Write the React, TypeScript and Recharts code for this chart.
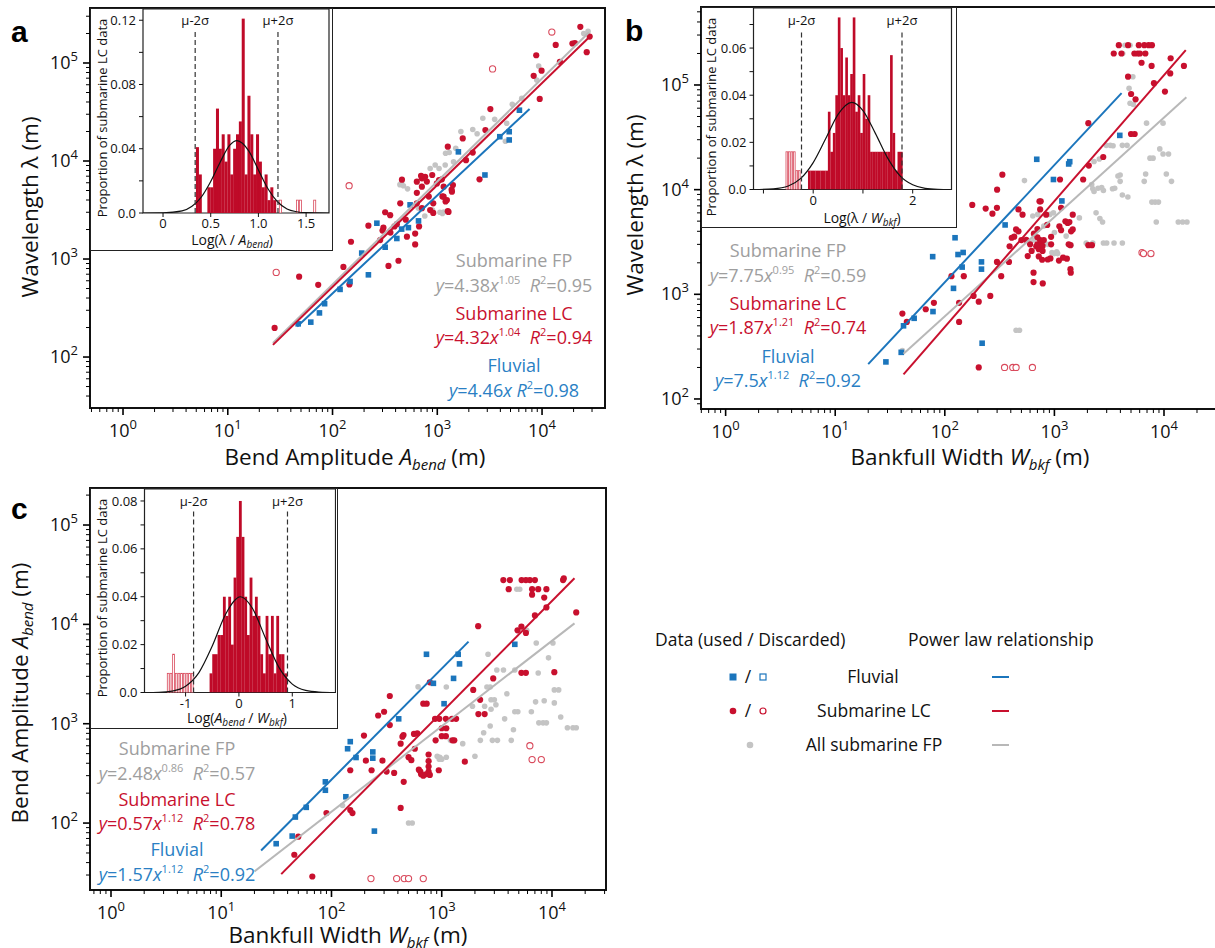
import React from "react";
import {
  Bar,
  ComposedChart,
  Line,
  ReferenceArea,
  ReferenceLine,
  Scatter,
  ScatterChart,
  XAxis,
  YAxis,
} from "recharts";

type P = [number, number];

const FONT = "'Open Sans', 'Noto Sans', sans-serif";
const RED = "#c8102e";
const BLUE = "#1b75bc";
const GRAY = "#c4c4c4";
const GRAY_LINE = "#b8b8b8";
const GRAY_TEXT = "#9e9e9e";
const BLUE_TEXT = "#2a7fc4";
const BAR_RED = "#bf0a28";
const OPEN_RED = "#d94a5c";

// ---------- panel a : wavelength vs bend amplitude ----------
const aFluvial: P[] = [
  [47, 218], [62, 227], [75, 282], [84, 350], [118, 490], [147, 590], [190, 1150], [220, 690],
  [265, 2320], [318, 1320], [411, 1620], [457, 2020], [530, 2090], [550, 3570], [662, 2450],
  [1590, 12400], [2850, 7200], [3950, 17700], [4860, 19900], [4860, 16400], [6080, 33000],
];
const aLC: P[] = [
  [28, 198], [48, 660], [73, 545], [127, 830], [150, 1500], [145, 550], [342, 850], [426, 960],
  [285, 1560], [615, 1410], [513, 1690], [306, 2090], [411, 2270], [318, 3000], [355, 2800],
  [443, 3700], [638, 3700], [713, 3300], [638, 4740], [713, 5470], [795, 6170], [638, 6150],
  [713, 6650], [766, 6900], [991, 5900], [1106, 6500], [1150, 5470], [915, 3700], [855, 3160],
  [1150, 4330], [1235, 4000], [1380, 4860], [1410, 5690], [915, 2950], [615, 1820], [1280, 3020],
  [2530, 6500], [1260, 14000], [1750, 17000], [1880, 10200], [2880, 20700], [3210, 33900],
  [2180, 12200], [8320, 74000], [8800, 120000], [9900, 83400], [9500, 43000], [13500, 153000],
  [19500, 158000], [20600, 160000], [23200, 234000], [26700, 129000], [28500, 186000],
  [14800, 103000], [220, 2190], [300, 1950], [357, 1860], [390, 2150], [830, 4340], [500, 2520],
  [670, 2150], [460, 6450], [700, 7060], [895, 7200], [1120, 4350], [1200, 3870], [1370, 5100],
  [1260, 3080], [1040, 6400],
];
const aOpen: P[] = [[29, 730], [144, 5600], [3370, 87000], [12400, 207000]];
const aFP: P[] = [
  [440, 5740], [475, 5600], [457, 6150], [520, 5200], [855, 8400], [955, 9100], [1190, 9100],
  [1430, 9800], [1150, 3020], [900, 3160], [760, 2750], [1200, 12000], [1300, 12200], [1500, 13500],
  [1680, 20000], [2180, 21000], [2720, 27300], [3530, 26600], [2400, 19000], [4470, 15900],
  [4600, 24300], [6400, 43600], [5200, 38000], [9290, 93000], [8900, 67000], [25000, 200000],
  [27500, 210000], [1040, 8400], [1120, 2920], [660, 3300], [1060, 3000],
];
const aFPLine: P[] = [[27, 139], [28000, 205000]];
const aLCLine: P[] = [[27, 133], [28000, 182000]];
const aFluvialLine: P[] = [[46, 205], [7600, 33900]];

// ---------- panel b : wavelength vs bankfull width ----------
const bFluvial: P[] = [
  [29, 226], [40, 279], [42, 500], [52.5, 590], [78, 684], [77.5, 2290], [120, 1140], [124, 3470],
  [132, 2400], [147, 2510], [144, 1820], [216, 2040], [216, 1740], [219, 341], [355, 4600],
  [690, 19500], [980, 12500], [1170, 7800], [1350, 17600], [1380, 18500], [3950, 33000],
];
const bLC: P[] = [
  [41, 655], [45, 545], [67, 720], [79.5, 830], [115, 1490], [135, 830], [135, 545], [149, 1490],
  [183, 964], [204, 850], [260, 964], [204, 200], [299, 2040], [327, 1490], [385, 2040], [178, 7150],
  [236, 6600], [272, 5900], [299, 6700], [300, 10000], [335, 13900], [390, 2880], [408, 3470],
  [430, 3550], [470, 6470], [512, 5760], [447, 4170], [470, 4000], [553, 3310], [571, 2320],
  [645, 1610], [645, 1310], [683, 2880], [700, 3000], [740, 3300], [700, 3500], [760, 3200],
  [720, 2700], [745, 2750], [780, 2900], [731, 7740], [750, 7740], [741, 6470], [841, 5760],
  [860, 4600], [933, 3540], [933, 3000], [773, 2140], [783, 1270], [870, 2150], [920, 2200],
  [1150, 6700], [1110, 4470], [1150, 4100], [1260, 4990], [1320, 4800], [1370, 4900], [1470, 5760],
  [1420, 4000], [1410, 1610], [1300, 2190], [1400, 2950], [2040, 2950], [2200, 2950], [1830, 12500],
  [2060, 17000], [2790, 20500], [2040, 43200], [1125, 12500], [5000, 34000], [5400, 34000],
  [3870, 240000], [4700, 240000], [3480, 200000], [4090, 200000], [5370, 200000], [5750, 200000],
  [6030, 200000], [6760, 200000], [5890, 240000], [6610, 240000], [7240, 240000], [7760, 240000],
  [6240, 163000], [7710, 152000], [4700, 120000], [5010, 82000], [5500, 73000], [8100, 104000],
  [10200, 86500], [11400, 129000], [11500, 180000], [15200, 152000], [1470, 4170], [1400, 1740],
  [1200, 2240], [1100, 2100], [1350, 3000], [500, 3300], [600, 3000], [650, 3800], [620, 2600],
  [720, 2300], [800, 3300], [700, 4200], [780, 2600],
];
const bOpen: P[] = [[351, 200], [417, 200], [447, 200], [630, 200], [6300, 2500], [6500, 2450], [7600, 2450]];
const bFP: P[] = [
  [41, 290], [447, 454], [480, 454], [533, 12200], [635, 5600], [705, 5800], [910, 5800], [980, 6000],
  [1280, 3600], [1690, 5370], [2300, 18600], [2570, 19600], [2970, 26500], [3230, 26500],
  [3430, 26300], [4170, 26500], [4600, 26500], [3980, 13800], [3980, 12000], [2240, 10200],
  [2500, 10300], [2800, 9800], [3390, 10200], [2190, 11200], [2700, 10500], [3550, 10300],
  [2300, 9600], [4170, 8900], [4680, 8500], [7750, 7600], [8300, 7600], [8900, 7600], [4800, 93000],
  [4900, 67000], [5250, 65000], [6930, 43200], [9800, 43200], [9150, 24500], [9800, 21900],
  [11000, 21900], [7450, 20000], [7950, 20000], [6800, 14100], [10500, 14100], [6600, 12000],
  [11700, 12000], [3800, 13500], [2400, 6000], [2600, 5300], [2750, 4900], [8500, 4900],
  [13500, 4900], [14800, 4900], [16200, 4900], [1950, 3090], [2240, 3090], [2800, 3090], [3000, 3090],
  [3500, 3090], [4170, 3090], [1000, 2450], [1070, 2450], [1420, 2950], [1000, 3900], [600, 3100],
  [650, 3300], [720, 2900], [800, 3200], [870, 3000], [950, 2500], [1050, 2550], [4400, 240000],
  [4900, 240000], [4200, 200000], [5200, 120000], [800, 4500],
];
const bFPLine: P[] = [[42, 270], [16000, 76400]];
const bLCLine: P[] = [[42, 172], [15800, 215000]];
const bFluvialLine: P[] = [[20, 215], [4100, 83500]];

// ---------- panel c : bend amplitude vs bankfull width ----------
const cFluvial: P[] = [
  [31.5, 62], [44, 74], [47, 115], [59, 144], [88, 260], [88, 214], [135, 184], [140, 560], [148, 660],
  [167, 457], [237, 520], [237, 450], [245, 83], [407, 1120], [727, 5000], [840, 2550], [1050, 1590],
  [1280, 2860], [1410, 5000], [1450, 4000], [4600, 6300],
];
const cLC: P[] = [
  [46, 48], [50, 73], [67, 29], [90, 126], [148, 135], [155, 126], [148, 340], [205, 425], [197, 760],
  [231, 340], [265, 1210], [290, 425], [300, 1320], [338, 1900], [338, 970], [316, 330], [370, 320],
  [424, 630], [440, 740], [424, 142], [452, 260], [450, 770], [500, 460], [530, 430], [560, 790],
  [600, 800], [570, 560], [640, 330], [650, 310], [620, 345], [680, 300], [720, 310], [760, 330],
  [680, 1590], [730, 1590], [870, 1120], [950, 1120], [1090, 1120], [1000, 900], [1100, 900],
  [1240, 1120], [1350, 1120], [1000, 750], [1090, 750], [780, 2610], [760, 490], [760, 420],
  [760, 370], [780, 305], [940, 340], [1620, 415], [1250, 680], [1300, 680], [880, 680], [2140, 9600],
  [1930, 2190], [2230, 1740], [2150, 1250], [2450, 1250], [2930, 2860], [3620, 27900], [4150, 27900],
  [4050, 22600], [5300, 27900], [5800, 27900], [6300, 27900], [7000, 27900], [6600, 22600],
  [7500, 22600], [8900, 22600], [6600, 19900], [8500, 18600], [8900, 14800], [12600, 27900],
  [12800, 29000], [16600, 13200], [7000, 12300], [5280, 9500], [4870, 8700], [5800, 8200],
  [5280, 3250], [5800, 3250], [10500, 3300],
];
const cOpen: P[] = [[228, 27.6], [390, 27.6], [457, 27.6], [500, 27.6], [680, 27.6], [6300, 600], [6600, 436], [8000, 436]];
const cFP: P[] = [
  [4800, 22600], [5100, 22600], [5900, 8700], [2630, 5000], [7200, 6500], [10200, 6500], [9300, 4600],
  [3160, 3470], [3630, 3470], [4600, 3470], [7500, 3240], [1100, 2340], [2570, 2340], [2750, 2340],
  [10500, 2190], [11500, 2190], [7100, 1660], [8500, 1700], [10500, 1620], [4600, 1320], [4900, 1320],
  [6500, 1320], [12000, 1170], [3720, 1120], [2750, 950], [7600, 1020], [8300, 1020], [8900, 1020],
  [13800, 910], [15500, 910], [16600, 910], [4470, 870], [2400, 810], [2240, 680], [2880, 680],
  [3200, 680], [4270, 680], [2000, 470], [1000, 440], [950, 440], [3900, 2000], [2800, 1740],
  [3000, 1740], [3100, 1550], [2450, 1500], [1900, 1500], [2800, 1400], [610, 2350], [500, 100],
  [540, 100], [910, 470], [960, 460], [1100, 460], [126, 150], [1550, 630], [1200, 680],
];
const cFPLine: P[] = [[20, 32.6], [16000, 10240]];
const cLCLine: P[] = [[35, 30.6], [16000, 29100]];
const cFluvialLine: P[] = [[23, 53], [1750, 6700]];

// ---------- inset histograms (bin centre, proportion) ----------
const aHistUsed: P[] = [
  [0.36, 0.041], [0.39, 0.024], [0.48, 0.016], [0.51, 0.016], [0.54, 0.04], [0.57, 0.065], [0.6, 0.04],
  [0.63, 0.049], [0.66, 0.032], [0.69, 0.049], [0.72, 0.024], [0.75, 0.04], [0.78, 0.049], [0.81, 0.057],
  [0.84, 0.121], [0.87, 0.024], [0.9, 0.073], [0.93, 0.049], [0.96, 0.024], [0.99, 0.049], [1.02, 0.032],
  [1.05, 0.016], [1.08, 0.024], [1.11, 0.008], [1.14, 0.016], [1.17, 0.008],
];
const aHistDiscarded: P[] = [[1.23, 0.008], [1.41, 0.008], [1.44, 0.008], [1.59, 0.008]];
const aCurve: P[] = [
  [-0.21, 0], [0, 0.0001], [0.2, 0.0013], [0.3, 0.004], [0.4, 0.0098], [0.5, 0.0196], [0.6, 0.0318],
  [0.7, 0.0422], [0.775, 0.045], [0.9, 0.0385], [1.0, 0.0268], [1.1, 0.0151], [1.2, 0.007],
  [1.3, 0.0025], [1.4, 0.0008], [1.5, 0.0002], [1.74, 0],
];
const aDashes = [0.337, 1.205];

const bHistUsed: P[] = [
  [-0.08, 0.008], [-0.03, 0.008], [0.02, 0.008], [0.07, 0.008], [0.12, 0.008], [0.17, 0.008],
  [0.22, 0.008], [0.27, 0.008], [0.32, 0.033], [0.37, 0.016], [0.42, 0.024], [0.47, 0.04], [0.52, 0.073],
  [0.57, 0.06], [0.62, 0.04], [0.67, 0.056], [0.72, 0.04], [0.77, 0.049], [0.82, 0.073], [0.87, 0.033],
  [0.92, 0.04], [0.97, 0.024], [1.02, 0.049], [1.07, 0.03], [1.12, 0.04], [1.17, 0.016], [1.22, 0.016],
  [1.27, 0.016], [1.32, 0.016], [1.37, 0.016], [1.42, 0.016], [1.47, 0.016], [1.52, 0.016],
  [1.57, 0.057], [1.62, 0.024], [1.67, 0.008], [1.72, 0.016], [1.77, 0.016],
];
const bHistDiscarded: P[] = [[-0.53, 0.016], [-0.48, 0.016], [-0.43, 0.016], [-0.38, 0.016], [-0.33, 0.008], [-0.28, 0.008]];
const bCurve: P[] = [
  [-1.2, 0], [-0.8, 0.0003], [-0.5, 0.0015], [-0.25, 0.0047], [0, 0.0114], [0.25, 0.0215], [0.5, 0.0319],
  [0.775, 0.037], [1.0, 0.0335], [1.25, 0.0238], [1.5, 0.0132], [1.75, 0.0057], [2.0, 0.002],
  [2.25, 0.0005], [2.5, 0.0001], [2.78, 0],
];
const bDashes = [-0.235, 1.785];

const cHistUsed: P[] = [
  [-0.525, 0.008], [-0.475, 0.016], [-0.425, 0.016], [-0.375, 0.024], [-0.325, 0.024], [-0.275, 0.04],
  [-0.225, 0.032], [-0.175, 0.04], [-0.125, 0.02], [-0.075, 0.048], [-0.025, 0.065], [0.025, 0.08],
  [0.075, 0.065], [0.125, 0.04], [0.175, 0.024], [0.225, 0.048], [0.275, 0.032], [0.325, 0.04],
  [0.375, 0.032], [0.425, 0.016], [0.475, 0.008], [0.525, 0.032], [0.575, 0.016], [0.625, 0.032],
  [0.675, 0.008], [0.725, 0.032], [0.775, 0.016], [0.825, 0.016], [0.875, 0.008],
];
const cHistDiscarded: P[] = [
  [-1.325, 0.008], [-1.275, 0.008], [-1.225, 0.016], [-1.175, 0.008], [-1.125, 0.008], [-1.075, 0.008],
  [-1.025, 0.008], [-0.975, 0.008], [-0.925, 0.008], [-0.875, 0.008],
];
const cCurve: P[] = [
  [-1.77, 0], [-1.5, 0.0001], [-1.25, 0.0006], [-1.0, 0.0026], [-0.75, 0.0083], [-0.5, 0.0194],
  [-0.25, 0.0327], [0.03, 0.04], [0.25, 0.0353], [0.5, 0.0226], [0.75, 0.0105], [1.0, 0.0035],
  [1.25, 0.0009], [1.5, 0.0002], [1.81, 0],
];
const cDashes = [-0.85, 0.91];

// ---------- helpers ----------
const rows = (pts: P[]) => pts.map(([x, y]) => ({ x, y }));
const histRows = (used: P[], discarded: P[]) =>
  [...discarded.map(([x, h]) => ({ x, h, d: true })), ...used.map(([x, h]) => ({ x, h, d: false }))].sort(
    (m, n) => m.x - n.x
  );
const curveRows = (pts: P[]) => pts.map(([x, p]) => ({ x, p }));

function logTicks(min: number, max: number) {
  const out: number[] = [];
  for (let e = Math.floor(Math.log10(min)); e <= Math.ceil(Math.log10(max)); e++) {
    for (let m = 1; m < 10; m++) {
      const v = m * Math.pow(10, e);
      if (v >= min && v <= max) out.push(v);
    }
  }
  return out;
}

const majorExp = (v: number) => {
  const e = Math.round(Math.log10(v));
  return Math.abs(Math.log10(v) - e) < 1e-6 ? e : null;
};

const XLogTick = (props: any) => {
  const { x, y, payload } = props;
  const e = majorExp(payload.value);
  return (
    <g>
      <line x1={x} x2={x} y1={y} y2={y + (e !== null ? 7 : 4)} stroke="#000" strokeWidth={e !== null ? 1.6 : 1} />
      {e !== null && (
        <text x={x} y={y + 29} textAnchor="middle" fontSize={18} fontFamily={FONT} fill="#111">
          10<tspan dy={-8} fontSize={13}>{e}</tspan>
        </text>
      )}
    </g>
  );
};

const YLogTick = (props: any) => {
  const { x, y, payload } = props;
  const e = majorExp(payload.value);
  return (
    <g>
      <line x1={x} x2={x - (e !== null ? 7 : 4)} y1={y} y2={y} stroke="#000" strokeWidth={e !== null ? 1.6 : 1} />
      {e !== null && (
        <text x={x - 12} y={y + 6} textAnchor="end" fontSize={18} fontFamily={FONT} fill="#111">
          10<tspan dy={-8} fontSize={13}>{e}</tspan>
        </text>
      )}
    </g>
  );
};

const FPDot = (p: any) => <circle cx={p.cx} cy={p.cy} r={2.8} fill={GRAY} />;
const LCDot = (p: any) => <circle cx={p.cx} cy={p.cy} r={3.1} fill={RED} />;
const OpenDot = (p: any) => <circle cx={p.cx} cy={p.cy} r={3.1} fill="#fff" stroke={OPEN_RED} strokeWidth={1.1} />;
const FluvialSquare = (p: any) => <rect x={p.cx - 2.8} y={p.cy - 2.8} width={5.6} height={5.6} fill={BLUE} />;
const NoShape = () => <g />;

type MainProps = {
  left: number;
  top: number;
  width: number;
  height: number;
  margin: { top: number; right: number; left: number; bottom: number };
  yAxisWidth: number;
  xAxisHeight: number;
  xDomain: [number, number];
  yDomain: [number, number];
  fp: P[];
  lc: P[];
  open: P[];
  fluvial: P[];
  fpLine: P[];
  lcLine: P[];
  fluvialLine: P[];
};

function MainPanel(m: MainProps) {
  return (
    <div style={{ position: "absolute", left: m.left, top: m.top }}>
      <ScatterChart width={m.width} height={m.height} margin={m.margin}>
        <XAxis
          type="number"
          dataKey="x"
          scale="log"
          domain={m.xDomain}
          allowDataOverflow
          ticks={logTicks(m.xDomain[0], m.xDomain[1])}
          interval={0}
          height={m.xAxisHeight}
          tickSize={0}
          tickMargin={0}
          axisLine={false}
          tickLine={false}
          tick={(p: any) => <XLogTick {...p} />}
        />
        <YAxis
          type="number"
          dataKey="y"
          scale="log"
          domain={m.yDomain}
          allowDataOverflow
          ticks={logTicks(m.yDomain[0], m.yDomain[1])}
          interval={0}
          width={m.yAxisWidth}
          tickSize={0}
          tickMargin={0}
          axisLine={false}
          tickLine={false}
          tick={(p: any) => <YLogTick {...p} />}
        />
        <Scatter data={rows(m.fp)} shape={FPDot} isAnimationActive={false} />
        <Scatter data={rows(m.lc)} shape={LCDot} isAnimationActive={false} />
        <Scatter data={rows(m.open)} shape={OpenDot} isAnimationActive={false} />
        <Scatter data={rows(m.fluvial)} shape={FluvialSquare} isAnimationActive={false} />
        <Scatter data={rows(m.fpLine)} line={{ stroke: GRAY_LINE, strokeWidth: 2 }} shape={NoShape} isAnimationActive={false} />
        <Scatter data={rows(m.fluvialLine)} line={{ stroke: BLUE, strokeWidth: 2 }} shape={NoShape} isAnimationActive={false} />
        <Scatter data={rows(m.lcLine)} line={{ stroke: RED, strokeWidth: 2 }} shape={NoShape} isAnimationActive={false} />
        <ReferenceArea
          x1={m.xDomain[0]}
          x2={m.xDomain[1]}
          y1={m.yDomain[0]}
          y2={m.yDomain[1]}
          fill="none"
          stroke="#111"
          strokeWidth={2}
          ifOverflow="visible"
        />
      </ScatterChart>
    </div>
  );
}

// bars are centred on the bin centre and drawn one bin wide
const makeHistBar = (binPx: number) => (props: any) => {
  const { x, y, width, height, payload } = props;
  if (!height || height <= 0) return <g />;
  const cx = x + (width || 0) / 2;
  if (payload && payload.d)
    return (
      <rect x={cx - binPx / 2 + 0.4} y={y} width={binPx - 0.8} height={height} fill="#fff" stroke={OPEN_RED} strokeWidth={0.8} />
    );
  return <rect x={cx - binPx / 2} y={y} width={binPx + 0.15} height={height} fill={BAR_RED} />;
};

type InsetProps = {
  left: number;
  top: number;
  w: number;
  h: number;
  yAxisW: number;
  xAxisH: number;
  marginRight: number;
  used: P[];
  discarded: P[];
  curve: P[];
  xDomain: [number, number];
  yDomain: [number, number];
  xTicks: number[];
  xFormat: (v: number) => string;
  yTicks: number[];
  yLabeled: number[];
  binWidth: number;
  dashes: number[];
  dashTop: number;
};

function Inset(s: InsetProps) {
  const tickStyle = { fontSize: 13, fill: "#111", fontFamily: FONT };
  const plotW = s.w - 3 - s.yAxisW - s.marginRight;
  const binPx = (s.binWidth * plotW) / (s.xDomain[1] - s.xDomain[0]);
  return (
    <div
      style={{
        position: "absolute",
        left: s.left,
        top: s.top,
        width: s.w,
        height: s.h,
        background: "#fff",
        border: "1.5px solid #222",
        boxSizing: "border-box",
      }}
    >
      <ComposedChart
        width={s.w - 3}
        height={s.h - 3}
        data={histRows(s.used, s.discarded)}
        margin={{ top: 0, right: s.marginRight, left: 0, bottom: 0 }}
        barCategoryGap={0}
      >
        <XAxis
          type="number"
          dataKey="x"
          domain={s.xDomain}
          allowDataOverflow
          ticks={s.xTicks}
          interval={0}
          height={s.xAxisH}
          tickSize={4}
          axisLine={false}
          tickLine={{ stroke: "#111" }}
          tick={tickStyle}
          tickFormatter={s.xFormat}
        />
        <YAxis
          type="number"
          domain={s.yDomain}
          allowDataOverflow
          ticks={s.yTicks}
          interval={0}
          width={s.yAxisW}
          tickSize={4}
          tickMargin={3}
          axisLine={false}
          tickLine={{ stroke: "#111" }}
          tick={tickStyle}
          tickFormatter={(v: number) => (s.yLabeled.includes(v) ? (v === 0 ? "0.0" : String(v)) : "")}
        />
        <Bar dataKey="h" shape={makeHistBar(binPx)} isAnimationActive={false} />
        <Line
          data={curveRows(s.curve)}
          dataKey="p"
          type="monotone"
          stroke="#111"
          strokeWidth={1.2}
          dot={false}
          isAnimationActive={false}
        />
        {s.dashes.map((d, i) => (
          <ReferenceLine
            key={i}
            segment={[
              { x: d, y: 0 },
              { x: d, y: s.dashTop },
            ]}
            stroke="#333"
            strokeWidth={1.2}
            strokeDasharray="5 3"
            label={{ value: i === 0 ? "μ-2σ" : "μ+2σ", position: "top", fontSize: 13, fill: "#111", fontFamily: FONT }}
          />
        ))}
        <ReferenceArea
          x1={s.xDomain[0]}
          x2={s.xDomain[1]}
          y1={s.yDomain[0]}
          y2={s.yDomain[1]}
          fill="none"
          stroke="#222"
          strokeWidth={1.2}
          ifOverflow="visible"
        />
      </ComposedChart>
    </div>
  );
}

const Eq = ({ x, y, color, a, b, r2 }: { x: number; y: number; color: string; a: string; b?: string; r2: string }) => (
  <text x={x} y={y} textAnchor="middle" fontSize={18} fill={color} fontFamily={FONT}>
    <tspan fontStyle="italic">y</tspan>={a}
    <tspan fontStyle="italic">x</tspan>
    {b ? (
      <>
        <tspan dy={-8} fontSize={11}>{b}</tspan>
        <tspan dy={8}>{"\u00a0\u00a0"}</tspan>
      </>
    ) : (
      <tspan>{"\u00a0"}</tspan>
    )}
    <tspan fontStyle="italic">R</tspan>
    <tspan dy={-8} fontSize={11}>2</tspan>
    <tspan dy={8}>={r2}</tspan>
  </text>
);

const Name = ({ x, y, color, text }: { x: number; y: number; color: string; text: string }) => (
  <text x={x} y={y} textAnchor="middle" fontSize={18} fill={color} fontFamily={FONT}>
    {text}
  </text>
);

function Overlay() {
  const t = { fontFamily: FONT, fill: "#111" };
  return (
    <svg width={1215} height={948} style={{ position: "absolute", left: 0, top: 0, pointerEvents: "none" }}>
      {/* panel letters */}
      <text x={11} y={42} fontSize={30} fontWeight={700} fontFamily="'Liberation Sans', Arial, sans-serif">a</text>
      <text x={625} y={41} fontSize={30} fontWeight={700} fontFamily="'Liberation Sans', Arial, sans-serif">b</text>
      <text x={11} y={519} fontSize={30} fontWeight={700} fontFamily="'Liberation Sans', Arial, sans-serif">c</text>

      {/* axis titles */}
      <text {...t} x={38} y={207} fontSize={22.5} textAnchor="middle" transform="rotate(-90 38 207)">
        Wavelength λ (m)
      </text>
      <text {...t} x={643} y={205} fontSize={22.5} textAnchor="middle" transform="rotate(-90 643 205)">
        Wavelength λ (m)
      </text>
      <text {...t} x={28} y={693} fontSize={22.5} textAnchor="middle" transform="rotate(-90 28 693)">
        Bend Amplitude <tspan fontStyle="italic">A</tspan>
        <tspan fontStyle="italic" fontSize={15} dy={5}>bend</tspan>
        <tspan dy={-5}> (m)</tspan>
      </text>
      <text {...t} x={355} y={465} fontSize={22.5} textAnchor="middle">
        Bend Amplitude <tspan fontStyle="italic">A</tspan>
        <tspan fontStyle="italic" fontSize={15} dy={5}>bend</tspan>
        <tspan dy={-5}> (m)</tspan>
      </text>
      <text {...t} x={970} y={465} fontSize={22.5} textAnchor="middle">
        Bankfull Width <tspan fontStyle="italic">W</tspan>
        <tspan fontStyle="italic" fontSize={15} dy={5}>bkf</tspan>
        <tspan dy={-5}> (m)</tspan>
      </text>
      <text {...t} x={348} y={943} fontSize={22.5} textAnchor="middle">
        Bankfull Width <tspan fontStyle="italic">W</tspan>
        <tspan fontStyle="italic" fontSize={15} dy={5}>bkf</tspan>
        <tspan dy={-5}> (m)</tspan>
      </text>

      {/* inset titles */}
      <text {...t} x={107} y={118} fontSize={13} textAnchor="middle" transform="rotate(-90 107 118)">
        Proportion of submarine LC data
      </text>
      <text {...t} x={716} y={117} fontSize={13} textAnchor="middle" transform="rotate(-90 716 117)">
        Proportion of submarine LC data
      </text>
      <text {...t} x={107} y={598} fontSize={13} textAnchor="middle" transform="rotate(-90 107 598)">
        Proportion of submarine LC data
      </text>
      <text {...t} x={232} y={245} fontSize={14} textAnchor="middle">
        Log(λ / <tspan fontStyle="italic">A</tspan>
        <tspan fontStyle="italic" fontSize={10} dy={3}>bend</tspan>
        <tspan dy={-3}>)</tspan>
      </text>
      <text {...t} x={862} y={223} fontSize={14} textAnchor="middle">
        Log(λ / <tspan fontStyle="italic">W</tspan>
        <tspan fontStyle="italic" fontSize={10} dy={3}>bkf</tspan>
        <tspan dy={-3}>)</tspan>
      </text>
      <text {...t} x={237} y={723} fontSize={14} textAnchor="middle">
        Log(<tspan fontStyle="italic">A</tspan>
        <tspan fontStyle="italic" fontSize={10} dy={3}>bend</tspan>
        <tspan dy={-3}> / </tspan>
        <tspan fontStyle="italic">W</tspan>
        <tspan fontStyle="italic" fontSize={10} dy={3}>bkf</tspan>
        <tspan dy={-3}>)</tspan>
      </text>

      {/* fit annotations panel a */}
      <Name x={514} y={267} color={GRAY_TEXT} text="Submarine FP" />
      <Eq x={514} y={292} color={GRAY_TEXT} a="4.38" b="1.05" r2="0.95" />
      <Name x={514} y={320} color={RED} text="Submarine LC" />
      <Eq x={514} y={344} color={RED} a="4.32" b="1.04" r2="0.94" />
      <Name x={514} y={372} color={BLUE_TEXT} text="Fluvial" />
      <Eq x={514} y={397} color={BLUE_TEXT} a="4.46" r2="0.98" />

      {/* fit annotations panel b */}
      <Name x={788} y={257} color={GRAY_TEXT} text="Submarine FP" />
      <Eq x={788} y={282} color={GRAY_TEXT} a="7.75" b="0.95" r2="0.59" />
      <Name x={788} y={310} color={RED} text="Submarine LC" />
      <Eq x={788} y={334} color={RED} a="1.87" b="1.21" r2="0.74" />
      <Name x={788} y={363} color={BLUE_TEXT} text="Fluvial" />
      <Eq x={788} y={387} color={BLUE_TEXT} a="7.5" b="1.12" r2="0.92" />

      {/* fit annotations panel c */}
      <Name x={177} y={755} color={GRAY_TEXT} text="Submarine FP" />
      <Eq x={177} y={780} color={GRAY_TEXT} a="2.48" b="0.86" r2="0.57" />
      <Name x={177} y={806} color={RED} text="Submarine LC" />
      <Eq x={177} y={830} color={RED} a="0.57" b="1.12" r2="0.78" />
      <Name x={177} y={856} color={BLUE_TEXT} text="Fluvial" />
      <Eq x={177} y={881} color={BLUE_TEXT} a="1.57" b="1.12" r2="0.92" />

      {/* legend */}
      <text {...t} x={655} y={646} fontSize={17.5}>Data (used / Discarded)</text>
      <text {...t} x={908} y={646} fontSize={17.5}>Power law relationship</text>
      <rect x={729.5} y={673.5} width={7} height={7} fill={BLUE} />
      <text {...t} x={748} y={683} fontSize={17.5} textAnchor="middle">/</text>
      <rect x={760} y={674} width={6} height={6} fill="#fff" stroke={BLUE} strokeWidth={1.2} />
      <text {...t} x={873} y={683} fontSize={17.5} textAnchor="middle">Fluvial</text>
      <line x1={992} x2={1009} y1={677} y2={677} stroke={BLUE} strokeWidth={2} />
      <circle cx={733} cy={711} r={3.3} fill={RED} />
      <text {...t} x={748} y={717} fontSize={17.5} textAnchor="middle">/</text>
      <circle cx={763} cy={711} r={3} fill="#fff" stroke={RED} strokeWidth={1.2} />
      <text {...t} x={874} y={717} fontSize={17.5} textAnchor="middle">Submarine LC</text>
      <line x1={992} x2={1009} y1={711} y2={711} stroke={RED} strokeWidth={2} />
      <circle cx={750} cy={745} r={3.3} fill={GRAY} />
      <text {...t} x={874} y={751} fontSize={17.5} textAnchor="middle">All submarine FP</text>
      <line x1={992} x2={1009} y1={745} y2={745} stroke={GRAY_LINE} strokeWidth={2} />
    </svg>
  );
}

export default function App() {
  return (
    <div
      style={{
        position: "absolute",
        left: 0,
        top: 0,
        width: 1215,
        height: 948,
        overflow: "hidden",
        background: "#fff",
        fontFamily: FONT,
      }}
    >
      <MainPanel
        left={0}
        top={0}
        width={620}
        height={470}
        margin={{ top: 8, right: 15, left: 0, bottom: 0 }}
        yAxisWidth={90}
        xAxisHeight={62}
        xDomain={[0.484, 39900]}
        yDomain={[30.2, 364000]}
        fp={aFP}
        lc={aLC}
        open={aOpen}
        fluvial={aFluvial}
        fpLine={aFPLine}
        lcLine={aLCLine}
        fluvialLine={aFluvialLine}
      />
      <MainPanel
        left={600}
        top={0}
        width={620}
        height={470}
        margin={{ top: 7, right: 2, left: 0, bottom: 0 }}
        yAxisWidth={101}
        xAxisHeight={61}
        xDomain={[0.596, 31100]}
        yDomain={[80.2, 556000]}
        fp={bFP}
        lc={bLC}
        open={bOpen}
        fluvial={bFluvial}
        fpLine={bFPLine}
        lcLine={bLCLine}
        fluvialLine={bFluvialLine}
      />
      <MainPanel
        left={0}
        top={470}
        width={620}
        height={478}
        margin={{ top: 18, right: 14, left: 0, bottom: 0 }}
        yAxisWidth={90}
        xAxisHeight={58}
        xDomain={[0.645, 30900]}
        yDomain={[21.2, 235800]}
        fp={cFP}
        lc={cLC}
        open={cOpen}
        fluvial={cFluvial}
        fpLine={cFPLine}
        lcLine={cLCLine}
        fluvialLine={cFluvialLine}
      />
      <Inset
        left={90}
        top={8}
        w={243}
        h={243}
        yAxisW={52}
        xAxisH={36}
        marginRight={2}
        used={aHistUsed}
        discarded={aHistDiscarded}
        curve={aCurve}
        xDomain={[-0.21, 1.74]}
        yDomain={[0, 0.127]}
        xTicks={[0, 0.5, 1, 1.5]}
        xFormat={(v: number) => (v === 0 ? "0" : v.toFixed(1))}
        yTicks={[0, 0.02, 0.04, 0.06, 0.08, 0.1, 0.12]}
        yLabeled={[0, 0.04, 0.08, 0.12]}
        binWidth={0.03}
        dashes={aDashes}
        dashTop={0.114}
      />
      <Inset
        left={701}
        top={7}
        w={256}
        h={221}
        yAxisW={51.5}
        xAxisH={36.5}
        marginRight={3.5}
        used={bHistUsed}
        discarded={bHistDiscarded}
        curve={bCurve}
        xDomain={[-1.2, 2.78]}
        yDomain={[0, 0.077]}
        xTicks={[-1, 0, 1, 2]}
        xFormat={(v: number) => (v === 0 || v === 2 ? String(v) : "")}
        yTicks={[0, 0.01, 0.02, 0.03, 0.04, 0.05, 0.06, 0.07]}
        yLabeled={[0, 0.02, 0.04, 0.06]}
        binWidth={0.05}
        dashes={bDashes}
        dashTop={0.0675}
      />
      <Inset
        left={90}
        top={488}
        w={248}
        h={241}
        yAxisW={53.5}
        xAxisH={34.5}
        marginRight={0.5}
        used={cHistUsed}
        discarded={cHistDiscarded}
        curve={cCurve}
        xDomain={[-1.77, 1.81]}
        yDomain={[0, 0.085]}
        xTicks={[-1, 0, 1]}
        xFormat={(v: number) => String(v)}
        yTicks={[0, 0.01, 0.02, 0.03, 0.04, 0.05, 0.06, 0.07, 0.08]}
        yLabeled={[0, 0.02, 0.04, 0.06, 0.08]}
        binWidth={0.05}
        dashes={cDashes}
        dashTop={0.0759}
      />
      <Overlay />
    </div>
  );
}
